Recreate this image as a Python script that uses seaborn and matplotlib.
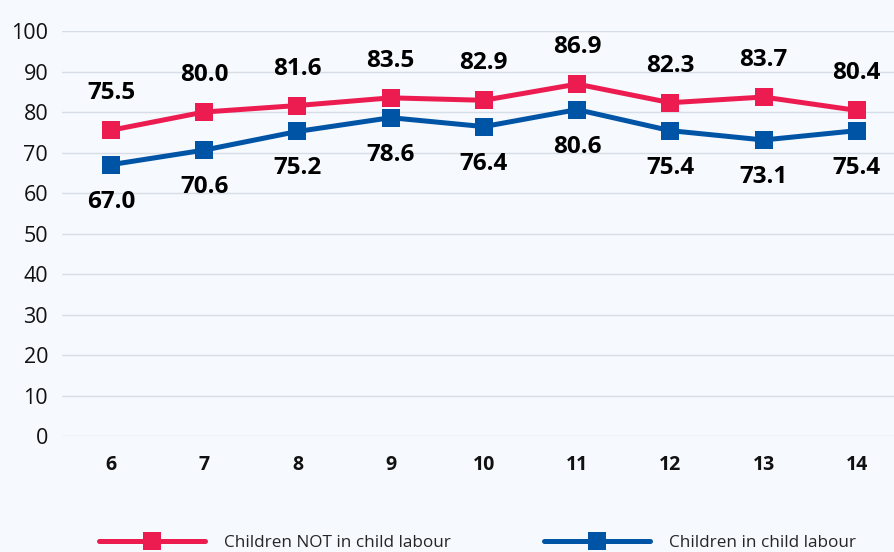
import pandas as pd
import seaborn as sns
import matplotlib.pyplot as plt

sns.set_theme(style="white")
plt.rcParams['font.family'] = ['Open Sans', 'DejaVu Sans']

ages = [6, 7, 8, 9, 10, 11, 12, 13, 14]
not_labour = [75.5, 80.0, 81.6, 83.5, 82.9, 86.9, 82.3, 83.7, 80.4]
in_labour = [67.0, 70.6, 75.2, 78.6, 76.4, 80.6, 75.4, 73.1, 75.4]
groups = ['Children NOT in child labour', 'Children in child labour']
colors = ['#ec1c51', '#0054a6']

df = pd.DataFrame({
    'age': ages * 2,
    'value': not_labour + in_labour,
    'group': [groups[0]] * len(ages) + [groups[1]] * len(ages),
})

bg = '#f6f9fd'
fig = plt.figure(figsize=(8.95, 5.52), dpi=100, facecolor=bg)
ax = fig.add_axes([0.0693, 0.2101, 0.9307, 0.7337])
ax.set_facecolor(bg)

sns.lineplot(data=df, x='age', y='value', hue='group', palette=colors,
             marker='s', markersize=13, markeredgewidth=0, linewidth=3.6,
             ax=ax, legend=True)

for x, v in zip(ages, not_labour):
    ax.annotate(f'{v:.1f}', (x, v), xytext=(0, 37), textcoords='offset pixels',
                ha='center', va='center', fontsize=17.5, fontweight='bold', color='black')
for x, v in zip(ages, in_labour):
    ax.annotate(f'{v:.1f}', (x, v), xytext=(0, -37), textcoords='offset pixels',
                ha='center', va='center', fontsize=17.5, fontweight='bold', color='black')

ax.set_xlim(5.475, 14.41)
ax.set_ylim(0, 100)
ax.set_yticks(range(0, 101, 10))
ax.set_xticks(ages)
ax.set_xticklabels([str(a) for a in ages], fontweight='bold', fontsize=14)
ax.tick_params(axis='y', labelsize=15.5, pad=10, length=0, colors='#111111')
ax.tick_params(axis='x', pad=14, length=0, colors='#111111')
ax.yaxis.grid(True, color='#d6dee7', linewidth=1)
ax.set_axisbelow(True)
for s in ax.spines.values():
    s.set_visible(False)
ax.set_xlabel('')
ax.set_ylabel('')

handles, labels = ax.get_legend_handles_labels()
ax.get_legend().remove()
leg = fig.legend(handles, labels, loc='center', bbox_to_anchor=(0.5335, 0.016),
                 ncol=2, frameon=False, fontsize=12.3, handlelength=6.2,
                 columnspacing=5.5, handletextpad=1.1)
for h in leg.legend_handles:
    h.set_linewidth(3.6)

fig.savefig('out.png', dpi=100, facecolor=bg)
